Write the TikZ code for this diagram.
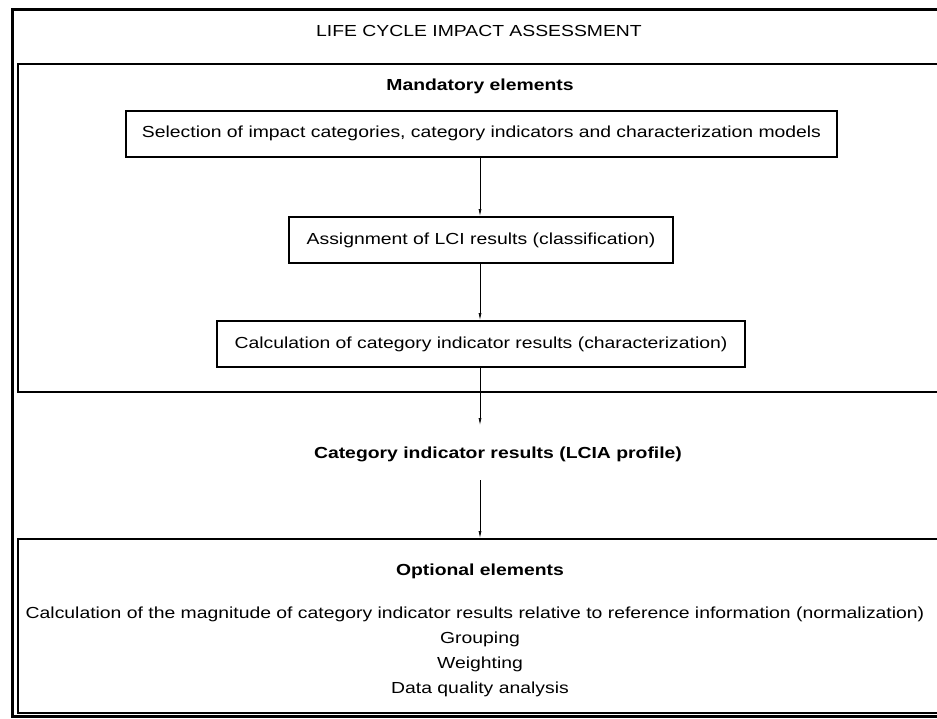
\documentclass[tikz,border=0pt]{standalone}
\usepackage{fontspec}
\setmainfont{Liberation Sans}[FakeStretch=1.21]
\usetikzlibrary{arrows.meta}
\begin{document}
\begin{tikzpicture}[x=1pt,y=-1pt,
  every node/.style={font=\fontsize{16}{18}\selectfont, inner sep=0pt},
  stepbox/.style={draw, line width=2pt, minimum height=46pt},
  frame/.style={draw, line width=2pt, anchor=north west, minimum height=#1},
  arr/.style={draw, line width=0.7pt, -{Latex[length=7pt,width=3pt]}},
  bold/.style={font=\fontsize{16}{18}\selectfont\bfseries}]
\useasboundingbox (0,0) rectangle (937,718);
\fill[white] (0,0) rectangle (937,718);
\begin{scope}
\clip (0,0) rectangle (937,718);
\draw[line width=3pt] (12,9) rectangle (960,716);
\node[frame=328pt, minimum width=940pt] (mand) at (17,63) {};
\node[frame=174pt, minimum width=940pt] (opt) at (17,538) {};
\end{scope}
\node (title) at (479,31) {LIFE CYCLE IMPACT ASSESSMENT};
\node[bold] (mtitle) at (480,86) {Mandatory elements};
\node[stepbox, minimum width=711pt] (b1) at (481.5,133.5) {Selection of impact categories, category indicators and characterization models};
\node[stepbox, minimum width=384pt] (b2) at (481,240) {Assignment of LCI results (classification)};
\node[stepbox, minimum width=528pt] (b3) at (481,344) {Calculation of category indicator results (characterization)};
\node[bold] (prof) at (498,454) {Category indicator results (LCIA profile)};
\coordinate (a3end) at (480,425);
\coordinate (a4start) at (480,480);
\coordinate (optin) at (480,538);
\draw[arr] (b1.south -| 480,0) -- (b2.north -| 480,0);
\draw[arr] (b2.south -| 480,0) -- (b3.north -| 480,0);
\draw[arr] (b3.south -| 480,0) -- (a3end);
\draw[arr] (a4start) -- (optin);
\node[bold] (otitle) at (480,571) {Optional elements};
\node (o1) at (475,614) {Calculation of the magnitude of category indicator results relative to reference information (normalization)};
\node (o2) at (480,639) {Grouping};
\node (o3) at (480,664) {Weighting};
\node (o4) at (480,689) {Data quality analysis};
\end{tikzpicture}
\end{document}
